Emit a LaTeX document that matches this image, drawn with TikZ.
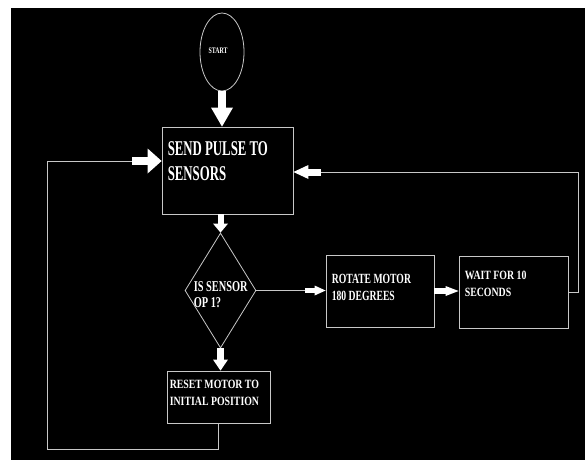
\documentclass[tikz,border=0pt]{standalone}
\usepackage{fontspec}
\setmainfont{Liberation Serif}[FakeStretch=0.69]
\newfontfamily\narrowfont{Liberation Serif}[FakeStretch=0.61]
\newfontfamily\widefont{Liberation Serif}[FakeStretch=0.78]
\usetikzlibrary{arrows.meta,positioning,calc,shapes.geometric}
\definecolor{edge}{HTML}{C8C8C8}

\begin{document}
\begin{tikzpicture}[x=1pt,y=-1pt,
  proc/.style={draw=edge,line width=0.8pt,inner sep=0pt},
  txt/.style={text=white,align=left,inner sep=0pt,anchor=north west},
  ln/.style={draw=edge,line width=0.8pt},
  blk/.style n args={3}{draw=white,line width=#1,-{Triangle[length=#2,width=#3,line width=0pt]}}
]
\useasboundingbox (0,0) rectangle (585,460);
\fill[white] (0,0) rectangle (585,460);
\fill[black] (10.5,8) rectangle (585,460);

% shapes
\node[ellipse,proc,minimum width=44pt,minimum height=78pt] (start) at (222,52) {};
\node[proc,minimum width=131pt,minimum height=87pt] (send) at (227.5,170.5) {};
\node[diamond,proc,minimum width=71pt,minimum height=115pt] (dia) at (220.5,290.5) {};
\node[proc,minimum width=108pt,minimum height=72pt] (rot) at (380,291) {};
\node[proc,minimum width=109pt,minimum height=72pt] (wait) at (513.5,292) {};
\node[proc,minimum width=103pt,minimum height=52pt] (reset) at (218.5,397) {};

% texts
\node[txt,anchor=center,font=\fontsize{8.5}{10}\selectfont\bfseries] (starttxt) at ($(start.center)+(-4,-1.5)$) {START};
\node[txt,font=\narrowfont\fontsize{21}{25}\selectfont\bfseries] (sendtxt) at ($(send.north west)+(6,14.5)$) {SEND PULSE TO\\SENSORS};
\node[txt,font=\fontsize{15}{15.5}\selectfont\bfseries] (diatxt) at ($(dia.west)+(9,-9)$) {IS SENSOR\\OP 1?};
\node[txt,font=\fontsize{14}{17}\selectfont\bfseries] (rottxt) at ($(rot.north west)+(6,19.5)$) {ROTATE MOTOR\\180 DEGREES};
\node[txt,font=\widefont\fontsize{12.6}{16.7}\selectfont\bfseries] (waittxt) at ($(wait.north west)+(6,15.5)$) {WAIT FOR 10\\SECONDS};
\node[txt,font=\widefont\fontsize{12.6}{17}\selectfont\bfseries] (resettxt) at ($(reset.north west)+(3,9)$) {RESET MOTOR TO\\INITIAL POSITION};

% connectors
\coordinate (loopin) at (132,161);
\coordinate (yes) at (305,290.5);
\coordinate (back) at (321,172);
\draw[blk={8pt}{19pt}{22pt}] (start.south) -- (start.south |- send.north);
\draw[blk={6pt}{9pt}{15pt}] (send.south -| dia.north) -- (dia.north);
\draw[blk={7pt}{11pt}{15pt}] (dia.south) -- (dia.south |- reset.north);
\draw[ln] (reset.south) |- (47,449) |- (loopin);
\draw[blk={8pt}{14pt}{25pt}] (loopin) -- (loopin -| send.west);
\draw[ln] (dia.east) -- (yes);
\draw[blk={5pt}{11pt}{10pt}] (yes) -- (rot.west |- yes);
\draw[blk={6pt}{13pt}{10pt}] (rot.east) -- (rot.east -| wait.west);
\draw[ln] (wait.east) -| (578,172) -- (back);
\draw[blk={7pt}{15pt}{14pt}] (back) -- (back -| send.east);
\end{tikzpicture}
\end{document}
